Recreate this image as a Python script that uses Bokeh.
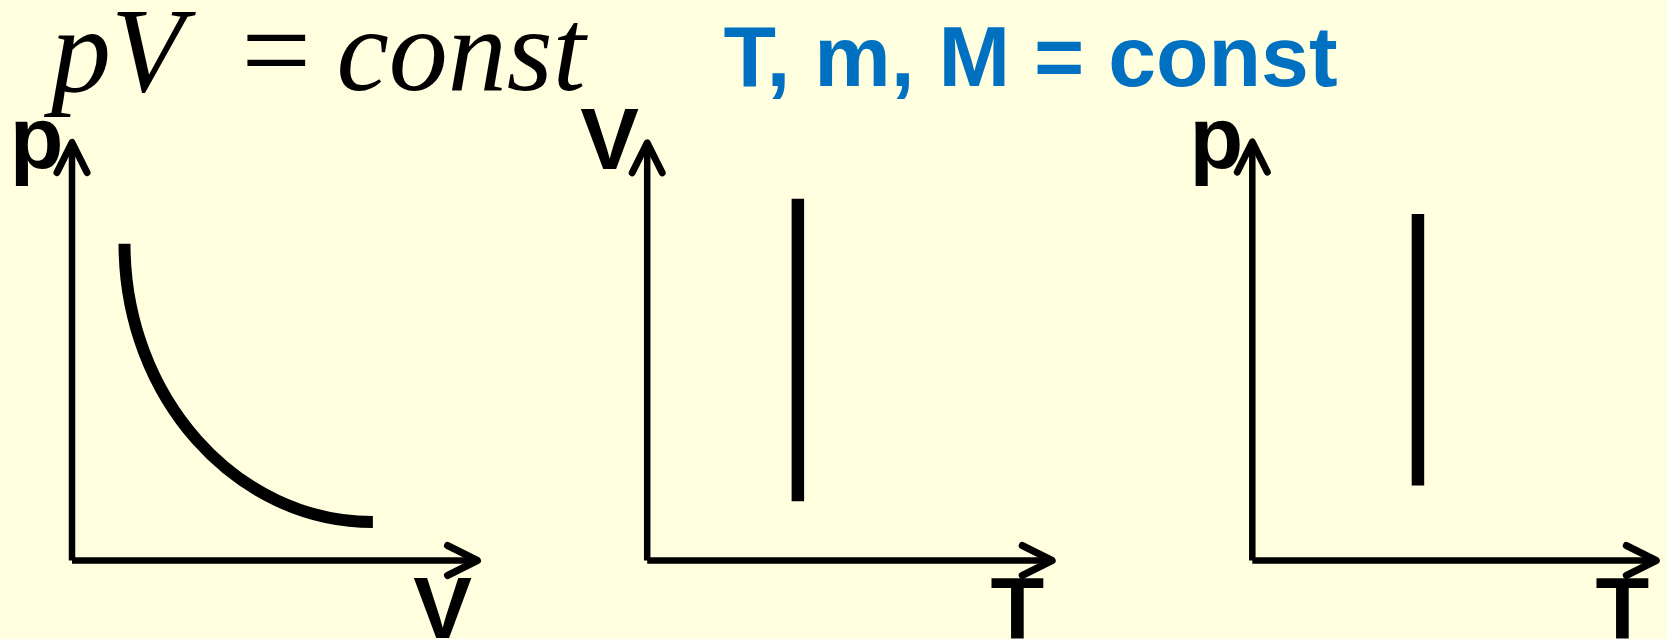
from bokeh.plotting import figure
from bokeh.models import Range1d, Arrow, OpenHead, ColumnDataSource, GlobalInlineStyleSheet
from bokeh.core.properties import value
from bokeh.embed import file_html
from bokeh.resources import INLINE

# ---------------- data (each panel axis runs 0..10 units) ----------------
# panel 1: isotherm p(V), drawn as one smooth curve (start, two control points, end)
iso_V = [1.295, 1.295, 4.04, 7.42]
iso_p = [7.58, 3.91, 0.92, 0.92]
# panel 2: V(T) at constant T
vt_T = [3.72, 3.72]
vt_V = [1.42, 8.66]
# panel 3: p(T) at constant T
pt_T = [4.10, 4.10]
pt_p = [1.79, 8.28]

axis_len = 10
y_labels = ["p", "V", "p"]
x_labels = ["V", "T", "T"]
formula_parts = ["pV", "=", "const"]
conditions = "T, m, M = const"

# ---------------- layout / style ----------------
BG = "#FFFFDF"
BLUE = "#0070C0"
W, H = 1667, 639
panel_origin = [(71.5, 560.0), (646.7, 560.0), (1251.8, 560.0)]   # page px of each axis origin
panel_unit = [(40.55, 41.8), (40.5, 41.77), (40.4, 41.85)]          # px per data unit

SANS_SHIFT = 0.37    # baseline correction (em) for sans text
SERIF_SHIFT = 41.0   # baseline correction (px) for the 120px serif formula

p = figure(width=W, height=H, output_backend="svg", toolbar_location=None,
           x_range=Range1d(0, W), y_range=Range1d(H, 0),
           x_axis_location=None, y_axis_location=None,
           min_border=0, background_fill_color=BG, border_fill_color=BG,
           outline_line_color=None)
p.grid.visible = False
p.stylesheets = [GlobalInlineStyleSheet(css="html, body { background-color: %s; }" % BG)]

xr, yr = {}, {}
for i, ((ox, oy), (ux, uy)) in enumerate(zip(panel_origin, panel_unit)):
    xr["x%d" % i] = Range1d((0 - ox) / ux, (W - ox) / ux)
    yr["y%d" % i] = Range1d((oy - H) / uy, (oy - 0) / uy)
p.extra_x_ranges = xr
p.extra_y_ranges = yr

# axes with open arrow heads
for i in range(3):
    for (xs, ys, xe, ye) in [(0, 0, axis_len, 0), (0, 0, 0, axis_len)]:
        p.add_layout(Arrow(end=OpenHead(size=30, line_width=7, line_color="black",
                                        line_cap="round", line_join="round"),
                           x_start=xs, y_start=ys, x_end=xe, y_end=ye,
                           line_width=6.5, line_color="black",
                           x_range_name="x%d" % i, y_range_name="y%d" % i))

# process curves
p.bezier(x0=[iso_V[0]], y0=[iso_p[0]], cx0=[iso_V[1]], cy0=[iso_p[1]],
         cx1=[iso_V[2]], cy1=[iso_p[2]], x1=[iso_V[3]], y1=[iso_p[3]],
         line_width=12, line_color="black", line_cap="butt",
         x_range_name="x0", y_range_name="y0")
p.line(vt_T, vt_V, line_width=12.5, line_color="black", line_cap="butt",
       x_range_name="x1", y_range_name="y1")
p.line(pt_T, pt_p, line_width=12.5, line_color="black", line_cap="butt",
       x_range_name="x2", y_range_name="y2")

# axis labels
lab_font = value("Liberation Sans")
LS = 88
ylab = ColumnDataSource(dict(x=[9.2, 609, 1189], y=[170 - SANS_SHIFT * LS, 171 - SANS_SHIFT * LS, 170 - SANS_SHIFT * LS],
                             t=y_labels, a=["left", "center", "left"]))
p.text(x="x", y="y", text="t", text_align="a", source=ylab, text_font=lab_font,
       text_font_style="bold", text_font_size="%dpx" % LS, text_baseline="alphabetic",
       text_color="black")
xlab = ColumnDataSource(dict(x=[442, 1017, 1622], y=[640 - SANS_SHIFT * LS] * 3, t=x_labels))
p.text(x="x", y="y", text="t", source=xlab, text_font=lab_font, text_align="center",
       text_font_style="bold", text_font_size="%dpx" % LS, text_baseline="alphabetic",
       text_color="black")

# formula pV = const
serif = value("Liberation Serif")
fy = 90.7 - SERIF_SHIFT
p.text(x=[50.4], y=[fy], text=[formula_parts[0]], text_font=serif, text_font_style="italic",
       text_font_size="120px", text_baseline="alphabetic", text_align="left", text_color="black")
p.text(x=[275.7], y=[fy], text=[formula_parts[1]], text_font=serif, text_font_style="normal",
       text_font_size="124px", text_baseline="alphabetic", text_align="center", text_color="black")
p.text(x=[336], y=[fy], text=[formula_parts[2]], text_font=serif, text_font_style="italic",
       text_font_size="118px", text_baseline="alphabetic", text_align="left", text_color="black")

# conditions
p.text(x=[723], y=[87.3 - SANS_SHIFT * 86], text=[conditions], text_font=lab_font, text_font_style="bold",
       text_font_size="86px", text_baseline="alphabetic", text_align="left", text_color=BLUE)

open("out.html", "w").write(file_html(p, INLINE))
